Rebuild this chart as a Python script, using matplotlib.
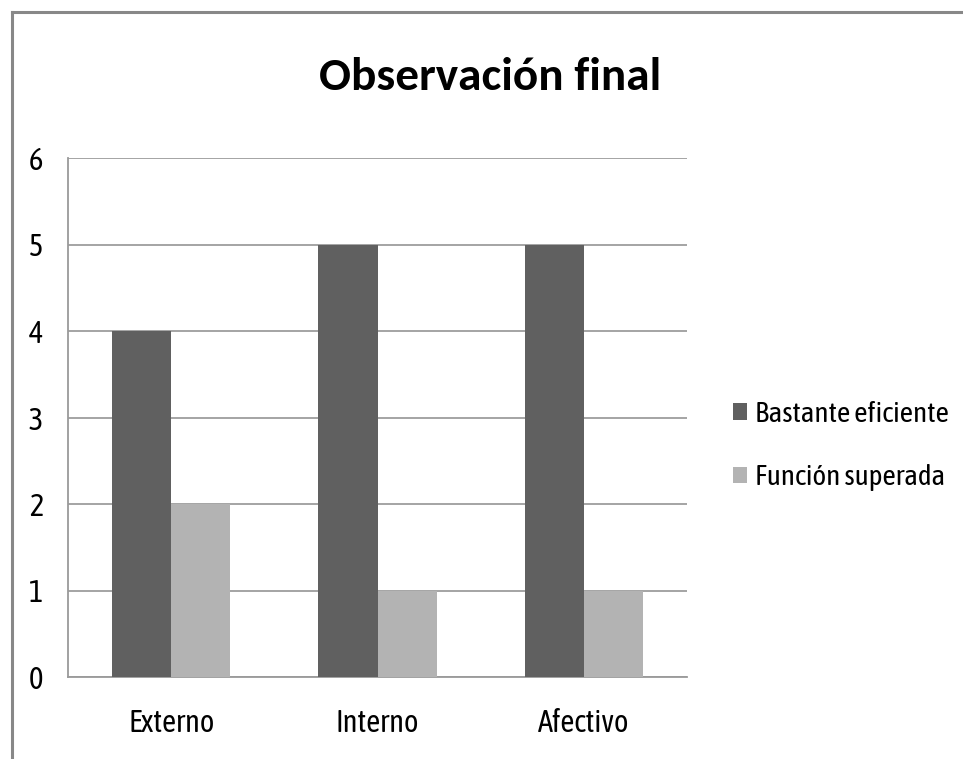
import matplotlib
matplotlib.use("Agg")
import matplotlib.pyplot as plt
from matplotlib.lines import Line2D
import numpy as np

categories = ["Externo", "Interno", "Afectivo"]
series_names = ["Bastante eficiente", "Función superada"]
bastante = [4, 5, 5]
superada = [2, 1, 1]
yticks = [0, 1, 2, 3, 4, 5, 6]

plt.rcParams['font.family'] = ['Asap Condensed', 'DejaVu Sans']

fig = plt.figure(figsize=(9.63, 7.59), dpi=100)
ax = fig.add_axes([68/963, 1-677/759, (687-68)/963, (677-158)/759])

x = np.arange(len(categories))
w = 0.286
ax.bar(x - w/2, bastante, width=w, color="#606060", label=series_names[0], zorder=3)
ax.bar(x + w/2, superada, width=w, color="#b3b3b3", label=series_names[1], zorder=3)

ax.set_xlim(-0.5, 2.5)
ax.set_ylim(0, 6)
ax.set_yticks(yticks)
ax.set_xticks(x)
ax.set_xticklabels(categories, fontsize=22)
ax.tick_params(axis='y', labelsize=22, length=0, pad=18)
ax.tick_params(axis='x', length=0, pad=22)
ax.yaxis.grid(True, color="#8c8c8c", linewidth=1.1, zorder=0)
for s in ["top", "right"]:
    ax.spines[s].set_visible(False)
for s in ["left", "bottom"]:
    ax.spines[s].set_color("#9a9a9a")
    ax.spines[s].set_linewidth(1.3)

fig.text(490/963, 1-90/759, "Observación final", ha="center", va="baseline",
         fontsize=34, fontweight="bold", family=["Carlito", "DejaVu Sans"])

ax.legend(loc="center left", bbox_to_anchor=(707/963, 1-446/759),
          bbox_transform=fig.transFigure, frameon=False, fontsize=21,
          handlelength=0.48, handleheight=0.48, handletextpad=0.28, labelspacing=1.25)

fig.add_artist(Line2D([11.5/963, 11.5/963], [0, 1-11.5/759], color="#888888", linewidth=2.2,
                      transform=fig.transFigure))
fig.add_artist(Line2D([11.5/963, 1], [1-11.5/759, 1-11.5/759], color="#888888", linewidth=2.2,
                      transform=fig.transFigure))

fig.savefig("out.png", dpi=100)
